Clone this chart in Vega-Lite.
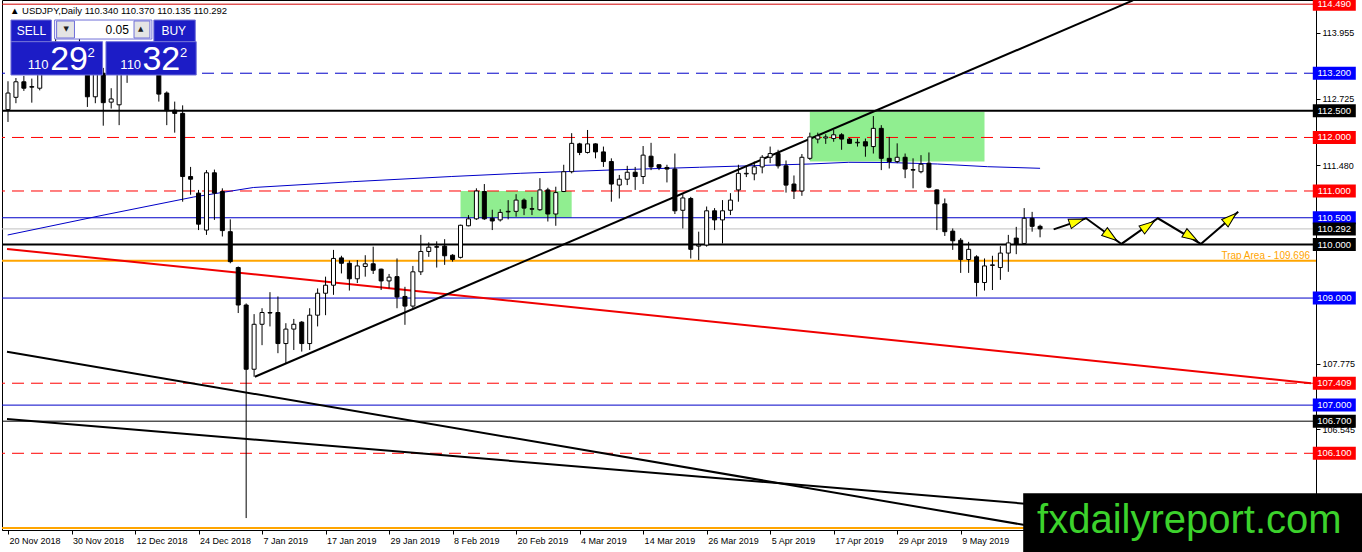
{
  "$schema": "https://vega.github.io/schema/vega-lite/v6.json",
  "width": 1314,
  "height": 530,
  "autosize": {"type": "none"},
  "padding": {"left": 2, "top": 0, "right": 46, "bottom": 22},
  "background": "white",
  "config": {
    "view": {"stroke": "black", "strokeWidth": 1},
    "font": "Liberation Sans"
  },
  "datasets": {
    "candles": [
      {"i":0,"o":112.52,"h":113.05,"l":112.29,"c":112.83},
      {"i":1,"o":112.75,"h":113.11,"l":112.64,"c":113.04},
      {"i":2,"o":113.04,"h":113.15,"l":112.87,"c":112.92},
      {"i":3,"o":112.95,"h":113.1,"l":112.65,"c":112.94},
      {"i":4,"o":112.92,"h":113.6,"l":112.88,"c":113.5},
      {"i":5,"o":113.5,"h":113.85,"l":113.3,"c":113.78},
      {"i":6,"o":113.78,"h":114.03,"l":113.5,"c":113.68},
      {"i":7,"o":113.68,"h":113.75,"l":113.3,"c":113.45},
      {"i":8,"o":113.45,"h":113.7,"l":113.2,"c":113.55},
      {"i":9,"o":113.6,"h":113.85,"l":113.45,"c":113.65},
      {"i":10,"o":113.6,"h":113.7,"l":112.57,"c":112.76},
      {"i":11,"o":112.76,"h":113.3,"l":112.64,"c":113.2},
      {"i":12,"o":113.2,"h":113.3,"l":112.22,"c":112.65},
      {"i":13,"o":112.66,"h":112.92,"l":112.54,"c":112.72},
      {"i":14,"o":112.61,"h":113.5,"l":112.23,"c":113.3},
      {"i":15,"o":113.3,"h":113.6,"l":113.02,"c":113.35},
      {"i":16,"o":113.35,"h":113.6,"l":113.2,"c":113.4},
      {"i":17,"o":113.4,"h":113.7,"l":113.25,"c":113.6},
      {"i":18,"o":113.6,"h":113.7,"l":113.3,"c":113.4},
      {"i":19,"o":113.4,"h":113.5,"l":112.67,"c":112.81},
      {"i":20,"o":112.83,"h":112.86,"l":112.23,"c":112.5},
      {"i":21,"o":112.51,"h":112.67,"l":112.09,"c":112.45},
      {"i":22,"o":112.45,"h":112.6,"l":110.8,"c":111.27},
      {"i":23,"o":111.27,"h":111.45,"l":110.93,"c":111.22},
      {"i":24,"o":110.96,"h":111.02,"l":110.27,"c":110.38},
      {"i":25,"o":110.27,"h":111.39,"l":110.18,"c":111.34},
      {"i":26,"o":111.34,"h":111.4,"l":110.46,"c":110.96},
      {"i":27,"o":110.99,"h":111.05,"l":110.15,"c":110.26},
      {"i":28,"o":110.24,"h":110.47,"l":109.65,"c":109.68},
      {"i":29,"o":109.57,"h":109.59,"l":108.72,"c":108.87},
      {"i":30,"o":108.87,"h":108.9,"l":104.89,"c":107.67},
      {"i":31,"o":107.67,"h":108.7,"l":107.53,"c":108.51},
      {"i":32,"o":108.51,"h":108.81,"l":108.12,"c":108.73},
      {"i":33,"o":108.73,"h":109.11,"l":108.47,"c":108.72},
      {"i":34,"o":108.73,"h":109.03,"l":107.97,"c":108.15},
      {"i":35,"o":108.15,"h":108.53,"l":107.78,"c":108.42},
      {"i":36,"o":108.42,"h":108.61,"l":108.03,"c":108.51},
      {"i":37,"o":108.55,"h":108.57,"l":108.0,"c":108.15},
      {"i":38,"o":108.15,"h":108.81,"l":108.03,"c":108.68},
      {"i":39,"o":108.68,"h":109.18,"l":108.47,"c":109.09},
      {"i":40,"o":109.09,"h":109.4,"l":108.68,"c":109.24},
      {"i":41,"o":109.24,"h":109.9,"l":109.06,"c":109.74},
      {"i":42,"o":109.75,"h":109.79,"l":109.46,"c":109.65},
      {"i":43,"o":109.65,"h":109.7,"l":109.14,"c":109.36},
      {"i":44,"o":109.36,"h":109.71,"l":109.28,"c":109.6},
      {"i":45,"o":109.59,"h":109.8,"l":109.4,"c":109.64},
      {"i":46,"o":109.64,"h":109.96,"l":109.45,"c":109.52},
      {"i":47,"o":109.54,"h":109.55,"l":109.15,"c":109.32},
      {"i":48,"o":109.32,"h":109.45,"l":109.18,"c":109.39},
      {"i":49,"o":109.4,"h":109.74,"l":108.81,"c":109.02},
      {"i":50,"o":109.03,"h":109.21,"l":108.5,"c":108.85},
      {"i":51,"o":108.85,"h":109.6,"l":108.81,"c":109.49},
      {"i":52,"o":109.49,"h":110.18,"l":109.43,"c":109.87},
      {"i":53,"o":109.87,"h":110.04,"l":109.77,"c":109.95},
      {"i":54,"o":109.96,"h":110.06,"l":109.57,"c":109.95},
      {"i":55,"o":109.97,"h":110.1,"l":109.62,"c":109.79},
      {"i":56,"o":109.8,"h":109.82,"l":109.68,"c":109.72},
      {"i":57,"o":109.76,"h":110.37,"l":109.74,"c":110.36},
      {"i":58,"o":110.35,"h":110.55,"l":110.34,"c":110.48},
      {"i":59,"o":110.48,"h":111.05,"l":110.46,"c":111.0},
      {"i":60,"o":110.99,"h":111.13,"l":110.46,"c":110.48},
      {"i":61,"o":110.49,"h":110.65,"l":110.27,"c":110.44},
      {"i":62,"o":110.46,"h":110.66,"l":110.43,"c":110.6},
      {"i":63,"o":110.61,"h":110.83,"l":110.47,"c":110.62},
      {"i":64,"o":110.62,"h":110.94,"l":110.52,"c":110.83},
      {"i":65,"o":110.83,"h":110.86,"l":110.55,"c":110.68},
      {"i":66,"o":110.67,"h":110.89,"l":110.55,"c":110.66},
      {"i":67,"o":110.65,"h":111.24,"l":110.63,"c":111.02},
      {"i":68,"o":111.02,"h":111.06,"l":110.43,"c":110.57},
      {"i":69,"o":110.57,"h":111.08,"l":110.35,"c":110.97},
      {"i":70,"o":110.99,"h":111.49,"l":110.98,"c":111.36},
      {"i":71,"o":111.36,"h":112.08,"l":111.33,"c":111.89},
      {"i":72,"o":111.88,"h":111.9,"l":111.67,"c":111.72},
      {"i":73,"o":111.72,"h":112.14,"l":111.7,"c":111.88},
      {"i":74,"o":111.88,"h":111.89,"l":111.61,"c":111.73},
      {"i":75,"o":111.73,"h":111.83,"l":111.45,"c":111.55},
      {"i":76,"o":111.55,"h":111.61,"l":110.8,"c":111.13},
      {"i":77,"o":111.11,"h":111.3,"l":110.86,"c":111.22},
      {"i":78,"o":111.22,"h":111.47,"l":111.11,"c":111.35},
      {"i":79,"o":111.35,"h":111.45,"l":111.02,"c":111.27},
      {"i":80,"o":111.27,"h":111.84,"l":111.13,"c":111.67},
      {"i":81,"o":111.65,"h":111.9,"l":111.39,"c":111.45},
      {"i":82,"o":111.49,"h":111.5,"l":111.39,"c":111.44},
      {"i":83,"o":111.44,"h":111.49,"l":111.16,"c":111.41},
      {"i":84,"o":111.41,"h":111.7,"l":110.57,"c":110.63},
      {"i":85,"o":110.64,"h":110.94,"l":110.3,"c":110.87},
      {"i":86,"o":110.86,"h":110.89,"l":109.74,"c":109.91},
      {"i":87,"o":109.97,"h":110.24,"l":109.71,"c":109.99},
      {"i":88,"o":109.99,"h":110.71,"l":109.96,"c":110.63},
      {"i":89,"o":110.63,"h":110.68,"l":110.27,"c":110.46},
      {"i":90,"o":110.46,"h":110.83,"l":110.02,"c":110.63},
      {"i":91,"o":110.64,"h":110.96,"l":110.55,"c":110.83},
      {"i":92,"o":111.02,"h":111.49,"l":110.8,"c":111.33},
      {"i":93,"o":111.32,"h":111.45,"l":111.26,"c":111.33},
      {"i":94,"o":111.32,"h":111.55,"l":111.2,"c":111.45},
      {"i":95,"o":111.45,"h":111.67,"l":111.33,"c":111.63},
      {"i":96,"o":111.63,"h":111.83,"l":111.52,"c":111.7},
      {"i":97,"o":111.7,"h":111.77,"l":111.42,"c":111.47},
      {"i":98,"o":111.47,"h":111.57,"l":110.97,"c":111.11},
      {"i":99,"o":111.13,"h":111.29,"l":110.85,"c":111.0},
      {"i":100,"o":111.0,"h":111.69,"l":110.91,"c":111.63},
      {"i":101,"o":111.61,"h":112.09,"l":111.58,"c":112.01},
      {"i":102,"o":111.97,"h":112.09,"l":111.89,"c":112.03},
      {"i":103,"o":111.99,"h":112.06,"l":111.88,"c":112.01},
      {"i":104,"o":111.98,"h":112.14,"l":111.92,"c":112.05},
      {"i":105,"o":112.05,"h":112.08,"l":111.77,"c":111.97},
      {"i":106,"o":111.97,"h":111.99,"l":111.88,"c":111.89},
      {"i":107,"o":111.9,"h":111.98,"l":111.83,"c":111.91},
      {"i":108,"o":111.92,"h":111.98,"l":111.64,"c":111.84},
      {"i":109,"o":111.83,"h":112.4,"l":111.7,"c":112.17},
      {"i":110,"o":112.17,"h":112.23,"l":111.39,"c":111.61},
      {"i":111,"o":111.61,"h":112.01,"l":111.42,"c":111.55},
      {"i":112,"o":111.55,"h":111.89,"l":111.52,"c":111.63},
      {"i":113,"o":111.63,"h":111.7,"l":111.24,"c":111.41},
      {"i":114,"o":111.4,"h":111.61,"l":111.05,"c":111.39},
      {"i":115,"o":111.36,"h":111.67,"l":111.33,"c":111.5},
      {"i":116,"o":111.52,"h":111.72,"l":111.05,"c":111.07},
      {"i":117,"o":111.02,"h":111.03,"l":110.27,"c":110.76},
      {"i":118,"o":110.76,"h":110.86,"l":110.16,"c":110.24},
      {"i":119,"o":110.25,"h":110.3,"l":109.9,"c":110.07},
      {"i":120,"o":110.08,"h":110.12,"l":109.47,"c":109.72},
      {"i":121,"o":109.72,"h":110.05,"l":109.47,"c":109.91},
      {"i":122,"o":109.77,"h":109.8,"l":109.03,"c":109.29},
      {"i":123,"o":109.29,"h":109.74,"l":109.14,"c":109.6},
      {"i":124,"o":109.61,"h":109.79,"l":109.15,"c":109.62},
      {"i":125,"o":109.57,"h":109.97,"l":109.34,"c":109.84},
      {"i":126,"o":109.84,"h":110.18,"l":109.49,"c":110.03},
      {"i":127,"o":110.12,"h":110.33,"l":109.82,"c":110.01},
      {"i":128,"o":110.02,"h":110.68,"l":110.01,"c":110.49},
      {"i":129,"o":110.49,"h":110.61,"l":110.24,"c":110.34},
      {"i":130,"o":110.34,"h":110.37,"l":110.135,"c":110.292}
    ],
    "levels": [
      {"p":114.49,"t":"top"},
      {"p":113.2,"t":"blue_dash"},
      {"p":112.5,"t":"major"},
      {"p":112.0,"t":"red_dash"},
      {"p":111.0,"t":"red_dash"},
      {"p":110.5,"t":"blue"},
      {"p":110.292,"t":"bid"},
      {"p":110.0,"t":"major"},
      {"p":109.696,"t":"trap","name":"Trap Area - 109.696"},
      {"p":109.0,"t":"blue"},
      {"p":107.409,"t":"red_dash"},
      {"p":107.0,"t":"blue"},
      {"p":106.7,"t":"minor"},
      {"p":106.1,"t":"red_dash"},
      {"p":104.704,"t":"base"}
    ],
    "trend": [
      {"id":"red","k":"red","i":-0.125,"p":109.918},
      {"id":"red","k":"red","i":164.125,"p":107.409},
      {"id":"up","k":"black","i":31.1,"p":107.53},
      {"id":"up","k":"black","i":141.7,"p":114.56},
      {"id":"dn1","k":"black","i":-0.125,"p":107.996},
      {"id":"dn1","k":"black","i":164.125,"p":103.85},
      {"id":"dn2","k":"black","i":-0.125,"p":106.741},
      {"id":"dn2","k":"black","i":164.125,"p":104.714}
    ],
    "ma": [
      {"i":-0.04,"p":110.178},
      {"i":12.1,"p":110.552},
      {"i":23.4,"p":110.888},
      {"i":30.9,"p":111.065},
      {"i":43.4,"p":111.174},
      {"i":55.9,"p":111.271},
      {"i":64.6,"p":111.331},
      {"i":75.9,"p":111.392},
      {"i":87.1,"p":111.443},
      {"i":100.9,"p":111.504},
      {"i":105.9,"p":111.536},
      {"i":110.9,"p":111.532},
      {"i":117.1,"p":111.504},
      {"i":123.4,"p":111.454},
      {"i":130,"p":111.424}
    ],
    "zones": [
      {"i":57,"i2":71,"p":110.5,"p2":111.0},
      {"i":101,"i2":123,"p":111.55,"p2":112.48}
    ],
    "path": [
      {"i":131.71,"p":110.284},
      {"i":135.79,"p":110.49},
      {"i":140.25,"p":110.011},
      {"i":144.84,"p":110.49},
      {"i":150.25,"p":110.011},
      {"i":154.96,"p":110.613}
    ],
    "heads": [
      {"i":134.63,"p":110.43,"dir":71},
      {"i":138.88,"p":110.159,"dir":126},
      {"i":143.59,"p":110.352,"dir":55},
      {"i":148.99,"p":110.146,"dir":121},
      {"i":153.99,"p":110.49,"dir":49}
    ],
    "panelRects": [
      {"part":"blue","i":0.375,"i2":5.46,"p":113.789,"p2":114.194},
      {"part":"white","i":5.875,"i2":18.125,"p":113.839,"p2":114.194},
      {"part":"btn","i":6.125,"i2":8.375,"p":113.858,"p2":114.176},
      {"part":"btn","i":15.875,"i2":17.875,"p":113.858,"p2":114.176},
      {"part":"blue","i":18.375,"i2":23.59,"p":113.789,"p2":114.194},
      {"part":"blue","i":0.375,"i2":11.91,"p":113.167,"p2":113.789},
      {"part":"blue","i":12.34,"i2":23.71,"p":113.167,"p2":113.789}
    ],
    "panelText": [
      {"part":"lab","i":2.96,"p":113.99,"t":"SELL"},
      {"part":"lab","i":20.875,"p":113.99,"t":"BUY"},
      {"part":"num","i":13.75,"p":114.0,"t":"0.05"},
      {"part":"arrow","i":7.34,"p":114.02,"t":"▼"},
      {"part":"arrow","i":16.71,"p":114.02,"t":"▲"},
      {"part":"small","i":3.79,"p":113.354,"t":"110"},
      {"part":"big","i":7.69,"p":113.447,"t":"29"},
      {"part":"small","i":10.46,"p":113.572,"t":"2"},
      {"part":"small","i":15.46,"p":113.354,"t":"110"},
      {"part":"big","i":19.31,"p":113.447,"t":"32"},
      {"part":"small","i":22.125,"p":113.572,"t":"2"}
    ],
    "header": [
      {"i":0.25,"p":114.36,"t":"▲ USDJPY,Daily  110.340 110.370 110.135 110.292"}
    ],
    "wmBox": [
      {"i":127.875,"i2":172,"p":104.0,"p2":105.352}
    ],
    "wmText": [
      {"i":148.8,"p":104.617,"t":"fxdailyreport.com"}
    ]
  },
  "layer": [
    {
      "data": {"name": "zones"},
      "mark": {"type": "rect", "color": "#90EE90"},
      "encoding": {
        "x": {
          "field": "i", "type": "quantitative", "title": null,
          "scale": {"domain": [-0.125, 164.125], "nice": false, "zero": false},
          "axis": {
            "orient": "bottom",
            "values": [0, 8, 16, 24, 32, 40, 48, 56, 64, 72, 80, 88, 96, 104, 112, 120],
            "labelExpr": "['20 Nov 2018','30 Nov 2018','12 Dec 2018','24 Dec 2018','7 Jan 2019','17 Jan 2019','29 Jan 2019','8 Feb 2019','20 Feb 2019','4 Mar 2019','14 Mar 2019','26 Mar 2019','5 Apr 2019','17 Apr 2019','29 Apr 2019','9 May 2019'][datum.value / 8]",
            "labelAlign": "left",
            "labelBaseline": "top",
            "labelOffset": 1,
            "labelPadding": 2,
            "labelFont": "Liberation Sans",
            "labelFontSize": 9,
            "labelColor": "black",
            "tickColor": "black",
            "tickSize": 4,
            "domainColor": "black",
            "grid": false,
            "title": null,
            "labelOverlap": false,
            "labelFlush": false
          }
        },
        "x2": {"field": "i2"},
        "y": {
          "field": "p", "type": "quantitative", "title": null,
          "scale": {"domain": [104.667, 114.568], "nice": false, "zero": false},
          "axis": {
            "orient": "right",
            "values": [113.955, 113.34, 112.725, 112.095, 111.48, 110.865, 110.25, 109.635, 109.02, 108.39, 107.775, 107.16, 106.545, 105.915, 105.3],
            "format": ".3f",
            "labelFont": "Liberation Sans",
            "labelFontSize": 9,
            "labelColor": "black",
            "tickColor": "black",
            "tickSize": 4,
            "labelPadding": 2,
            "domainColor": "black",
            "grid": false,
            "title": null,
            "labelOverlap": false,
            "labelFlush": false
          }
        },
        "y2": {"field": "p2"}
      }
    },
    {
      "data": {"name": "levels"},
      "transform": [{"filter": "datum.t == 'top'"}],
      "mark": {"type": "rule", "strokeWidth": 1, "color": "#D00000"},
      "encoding": {
        "y": {"field": "p", "type": "quantitative", "title": null, "scale": {"domain": [104.667, 114.568], "nice": false, "zero": false}}
      }
    },
    {
      "data": {"name": "levels"},
      "transform": [{"filter": "datum.t == 'blue'"}],
      "mark": {"type": "rule", "strokeWidth": 1, "color": "#0000C8"},
      "encoding": {
        "y": {"field": "p", "type": "quantitative", "title": null, "scale": {"domain": [104.667, 114.568], "nice": false, "zero": false}}
      }
    },
    {
      "data": {"name": "levels"},
      "transform": [{"filter": "datum.t == 'bid'"}],
      "mark": {"type": "rule", "strokeWidth": 1, "color": "#C0C0C0"},
      "encoding": {
        "y": {"field": "p", "type": "quantitative", "title": null, "scale": {"domain": [104.667, 114.568], "nice": false, "zero": false}}
      }
    },
    {
      "data": {"name": "levels"},
      "transform": [{"filter": "datum.t == 'minor'"}],
      "mark": {"type": "rule", "strokeWidth": 1, "color": "#000000"},
      "encoding": {
        "y": {"field": "p", "type": "quantitative", "title": null, "scale": {"domain": [104.667, 114.568], "nice": false, "zero": false}}
      }
    },
    {
      "data": {"name": "levels"},
      "transform": [{"filter": "datum.t == 'blue_dash'"}],
      "mark": {"type": "rule", "strokeWidth": 1, "strokeDash": [12, 7], "color": "#0000C8"},
      "encoding": {
        "y": {"field": "p", "type": "quantitative", "title": null, "scale": {"domain": [104.667, 114.568], "nice": false, "zero": false}}
      }
    },
    {
      "data": {"name": "levels"},
      "transform": [{"filter": "datum.t == 'red_dash'"}],
      "mark": {"type": "rule", "strokeWidth": 1, "strokeDash": [12, 7], "color": "#FF0000"},
      "encoding": {
        "y": {"field": "p", "type": "quantitative", "title": null, "scale": {"domain": [104.667, 114.568], "nice": false, "zero": false}}
      }
    },
    {
      "data": {"name": "levels"},
      "transform": [{"filter": "datum.t == 'major'"}],
      "mark": {"type": "rule", "strokeWidth": 2, "color": "#000000"},
      "encoding": {
        "y": {"field": "p", "type": "quantitative", "title": null, "scale": {"domain": [104.667, 114.568], "nice": false, "zero": false}}
      }
    },
    {
      "data": {"name": "levels"},
      "transform": [{"filter": "datum.t == 'trap' || datum.t == 'base'"}],
      "mark": {"type": "rule", "strokeWidth": 2, "color": "#FFA500"},
      "encoding": {
        "y": {"field": "p", "type": "quantitative", "title": null, "scale": {"domain": [104.667, 114.568], "nice": false, "zero": false}}
      }
    },
    {
      "data": {"name": "ma"},
      "mark": {"type": "line", "color": "#0000C8", "strokeWidth": 1, "clip": true},
      "encoding": {
        "x": {"field": "i", "type": "quantitative", "title": null, "scale": {"domain": [-0.125, 164.125], "nice": false, "zero": false}},
        "y": {"field": "p", "type": "quantitative", "title": null, "scale": {"domain": [104.667, 114.568], "nice": false, "zero": false}}
      }
    },
    {
      "data": {"name": "trend"},
      "mark": {"type": "line", "strokeWidth": 2, "clip": true},
      "encoding": {
        "x": {"field": "i", "type": "quantitative", "title": null, "scale": {"domain": [-0.125, 164.125], "nice": false, "zero": false}},
        "y": {"field": "p", "type": "quantitative", "title": null, "scale": {"domain": [104.667, 114.568], "nice": false, "zero": false}},
        "detail": {"field": "id"},
        "color": {"field": "k", "type": "nominal", "legend": null, "scale": {"domain": ["red", "black"], "range": ["#F00000", "#000000"]}}
      }
    },
    {
      "data": {"name": "candles"},
      "mark": {"type": "rule", "color": "black", "strokeWidth": 1},
      "encoding": {
        "x": {"field": "i", "type": "quantitative", "title": null, "scale": {"domain": [-0.125, 164.125], "nice": false, "zero": false}},
        "y": {"field": "l", "type": "quantitative", "title": null, "scale": {"domain": [104.667, 114.568], "nice": false, "zero": false}},
        "y2": {"field": "h"}
      }
    },
    {
      "data": {"name": "candles"},
      "mark": {"type": "bar", "width": 4, "stroke": "black", "strokeWidth": 1},
      "encoding": {
        "x": {"field": "i", "type": "quantitative", "title": null, "scale": {"domain": [-0.125, 164.125], "nice": false, "zero": false}},
        "y": {"field": "o", "type": "quantitative", "title": null, "scale": {"domain": [104.667, 114.568], "nice": false, "zero": false}},
        "y2": {"field": "c"},
        "fill": {"condition": {"test": "datum.c >= datum.o", "value": "white"}, "value": "black"}
      }
    },
    {
      "data": {"name": "path"},
      "mark": {"type": "line", "color": "black", "strokeWidth": 2},
      "encoding": {
        "x": {"field": "i", "type": "quantitative", "title": null, "scale": {"domain": [-0.125, 164.125], "nice": false, "zero": false}},
        "y": {"field": "p", "type": "quantitative", "title": null, "scale": {"domain": [104.667, 114.568], "nice": false, "zero": false}}
      }
    },
    {
      "data": {"name": "heads"},
      "mark": {"type": "point", "filled": true, "fill": "#FFFF00", "stroke": "black", "strokeWidth": 1, "opacity": 1, "shape": "M0,-1L0.65,1L-0.65,1Z", "size": 225},
      "encoding": {
        "x": {"field": "i", "type": "quantitative", "title": null, "scale": {"domain": [-0.125, 164.125], "nice": false, "zero": false}},
        "y": {"field": "p", "type": "quantitative", "title": null, "scale": {"domain": [104.667, 114.568], "nice": false, "zero": false}},
        "angle": {"field": "dir", "type": "quantitative", "scale": null}
      }
    },
    {
      "data": {"name": "panelRects"},
      "mark": {"type": "rect", "stroke": "#7070D8", "strokeWidth": 1},
      "encoding": {
        "x": {"field": "i", "type": "quantitative", "title": null, "scale": {"domain": [-0.125, 164.125], "nice": false, "zero": false}},
        "x2": {"field": "i2"},
        "y": {"field": "p", "type": "quantitative", "title": null, "scale": {"domain": [104.667, 114.568], "nice": false, "zero": false}},
        "y2": {"field": "p2"},
        "fill": {"field": "part", "type": "nominal", "legend": null, "scale": {"domain": ["blue", "white", "btn"], "range": ["#1C1CC6", "#FFFFFF", "#E4E4E4"]}}
      }
    },
    {
      "data": {"name": "panelText"},
      "transform": [{"filter": "datum.part == 'lab' || datum.part == 'num'"}],
      "mark": {"type": "text", "align": "center", "baseline": "middle", "font": "Liberation Sans", "fontSize": 12},
      "encoding": {
        "x": {"field": "i", "type": "quantitative", "title": null, "scale": {"domain": [-0.125, 164.125], "nice": false, "zero": false}},
        "y": {"field": "p", "type": "quantitative", "title": null, "scale": {"domain": [104.667, 114.568], "nice": false, "zero": false}},
        "text": {"field": "t"},
        "color": {"field": "part", "type": "nominal", "legend": null, "scale": {"domain": ["lab", "num"], "range": ["#FFFFFF", "#000000"]}}
      }
    },
    {
      "data": {"name": "panelText"},
      "transform": [{"filter": "datum.part == 'arrow'"}],
      "mark": {"type": "text", "align": "center", "baseline": "middle", "font": "DejaVu Sans", "fontSize": 7, "color": "#202020"},
      "encoding": {
        "x": {"field": "i", "type": "quantitative", "title": null, "scale": {"domain": [-0.125, 164.125], "nice": false, "zero": false}},
        "y": {"field": "p", "type": "quantitative", "title": null, "scale": {"domain": [104.667, 114.568], "nice": false, "zero": false}},
        "text": {"field": "t"}
      }
    },
    {
      "data": {"name": "panelText"},
      "transform": [{"filter": "datum.part == 'small'"}],
      "mark": {"type": "text", "align": "center", "baseline": "middle", "font": "Liberation Sans", "fontSize": 13, "color": "white"},
      "encoding": {
        "x": {"field": "i", "type": "quantitative", "title": null, "scale": {"domain": [-0.125, 164.125], "nice": false, "zero": false}},
        "y": {"field": "p", "type": "quantitative", "title": null, "scale": {"domain": [104.667, 114.568], "nice": false, "zero": false}},
        "text": {"field": "t"}
      }
    },
    {
      "data": {"name": "panelText"},
      "transform": [{"filter": "datum.part == 'big'"}],
      "mark": {"type": "text", "align": "center", "baseline": "middle", "font": "Liberation Sans", "fontSize": 34, "color": "white"},
      "encoding": {
        "x": {"field": "i", "type": "quantitative", "title": null, "scale": {"domain": [-0.125, 164.125], "nice": false, "zero": false}},
        "y": {"field": "p", "type": "quantitative", "title": null, "scale": {"domain": [104.667, 114.568], "nice": false, "zero": false}},
        "text": {"field": "t"}
      }
    },
    {
      "data": {"name": "header"},
      "mark": {"type": "text", "align": "left", "baseline": "middle", "font": "Liberation Sans", "fontSize": 9.5, "color": "black"},
      "encoding": {
        "x": {"field": "i", "type": "quantitative", "title": null, "scale": {"domain": [-0.125, 164.125], "nice": false, "zero": false}},
        "y": {"field": "p", "type": "quantitative", "title": null, "scale": {"domain": [104.667, 114.568], "nice": false, "zero": false}},
        "text": {"field": "t"}
      }
    },
    {
      "data": {"name": "levels"},
      "transform": [{"filter": "isValid(datum.name)"}],
      "mark": {"type": "text", "align": "right", "baseline": "alphabetic", "dy": -2, "font": "Liberation Sans", "fontSize": 10, "color": "#FFA500"},
      "encoding": {
        "x": {"datum": 164, "type": "quantitative", "title": null, "scale": {"domain": [-0.125, 164.125], "nice": false, "zero": false}},
        "y": {"field": "p", "type": "quantitative", "title": null, "scale": {"domain": [104.667, 114.568], "nice": false, "zero": false}},
        "text": {"field": "name"}
      }
    },
    {
      "data": {"name": "levels"},
      "transform": [{"filter": "datum.t != 'trap' && datum.t != 'base'"}],
      "mark": {"type": "tick", "orient": "horizontal", "size": 43, "thickness": 13, "opacity": 1, "clip": false},
      "encoding": {
        "x": {"datum": 167.06, "type": "quantitative", "title": null, "scale": {"domain": [-0.125, 164.125], "nice": false, "zero": false}},
        "y": {"field": "p", "type": "quantitative", "title": null, "scale": {"domain": [104.667, 114.568], "nice": false, "zero": false}},
        "color": {
          "field": "t", "type": "nominal", "legend": null,
          "scale": {
            "domain": ["top", "blue_dash", "major", "red_dash", "blue", "bid", "minor"],
            "range": ["#FF0000", "#0000FF", "#000000", "#FF0000", "#0000FF", "#000000", "#000000"]
          }
        }
      }
    },
    {
      "data": {"name": "levels"},
      "transform": [{"filter": "datum.t != 'trap' && datum.t != 'base'"}],
      "mark": {"type": "text", "align": "center", "baseline": "middle", "font": "Liberation Sans", "fontSize": 9.5, "color": "white"},
      "encoding": {
        "x": {"datum": 167.06, "type": "quantitative", "title": null, "scale": {"domain": [-0.125, 164.125], "nice": false, "zero": false}},
        "y": {"field": "p", "type": "quantitative", "title": null, "scale": {"domain": [104.667, 114.568], "nice": false, "zero": false}},
        "text": {"field": "p", "type": "quantitative", "format": ".3f"}
      }
    },
    {
      "data": {"name": "wmBox"},
      "mark": {"type": "rect", "color": "black", "clip": false},
      "encoding": {
        "x": {"field": "i", "type": "quantitative", "title": null, "scale": {"domain": [-0.125, 164.125], "nice": false, "zero": false}},
        "x2": {"field": "i2"},
        "y": {"field": "p", "type": "quantitative", "title": null, "scale": {"domain": [104.667, 114.568], "nice": false, "zero": false}},
        "y2": {"field": "p2"}
      }
    },
    {
      "data": {"name": "wmText"},
      "mark": {"type": "text", "align": "center", "baseline": "alphabetic", "font": "Liberation Sans", "fontSize": 40, "color": "#3CD22C"},
      "encoding": {
        "x": {"field": "i", "type": "quantitative", "title": null, "scale": {"domain": [-0.125, 164.125], "nice": false, "zero": false}},
        "y": {"field": "p", "type": "quantitative", "title": null, "scale": {"domain": [104.667, 114.568], "nice": false, "zero": false}},
        "text": {"field": "t"}
      }
    }
  ],
  "resolve": {"scale": {"color": "independent", "fill": "independent"}}
}
